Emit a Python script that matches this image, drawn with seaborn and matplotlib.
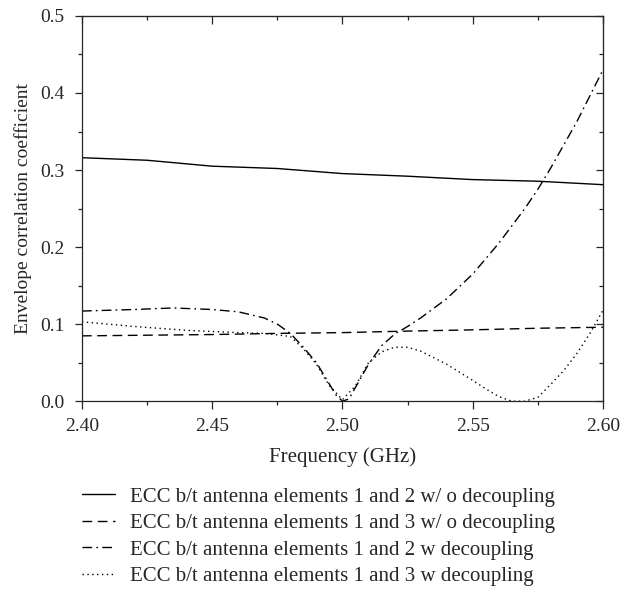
import pandas as pd
import seaborn as sns
import matplotlib.pyplot as plt
from matplotlib.ticker import MultipleLocator

# values
freq_solid = [2.40, 2.425, 2.45, 2.475, 2.50, 2.525, 2.55, 2.575, 2.60]
ecc_12_wo = [0.316, 0.3127, 0.305, 0.302, 0.2954, 0.292, 0.2876, 0.2855, 0.281]

freq_dash = [2.40, 2.45, 2.475, 2.50, 2.525, 2.55, 2.575, 2.60]
ecc_13_wo = [0.0848, 0.0865, 0.088, 0.089, 0.091, 0.0926, 0.0947, 0.096]

freq_dashdot = [2.40, 2.41, 2.42, 2.435, 2.45, 2.46, 2.47, 2.475, 2.48, 2.485,
                2.49, 2.495, 2.4975, 2.50, 2.5025, 2.505, 2.51, 2.515, 2.52,
                2.525, 2.53, 2.54, 2.55, 2.56, 2.57, 2.575, 2.58, 2.59, 2.60]
ecc_12_w = [0.117, 0.118, 0.119, 0.121, 0.119, 0.116, 0.108, 0.100, 0.088, 0.070,
            0.050, 0.022, 0.008, 0.0, 0.003, 0.018, 0.048, 0.072, 0.087,
            0.097, 0.108, 0.133, 0.165, 0.205, 0.250, 0.275, 0.303, 0.363, 0.430]

freq_dot = [2.40, 2.42, 2.44, 2.46, 2.47, 2.48, 2.485, 2.49, 2.495, 2.50, 2.505,
            2.51, 2.515, 2.52, 2.525, 2.53, 2.54, 2.55, 2.555, 2.56, 2.565,
            2.57, 2.575, 2.58, 2.585, 2.59, 2.595, 2.60]
ecc_13_w = [0.103, 0.097, 0.092, 0.089, 0.088, 0.084, 0.068, 0.048, 0.020, 0.002, 0.020,
            0.050, 0.064, 0.070, 0.070, 0.065, 0.048, 0.027, 0.016, 0.006, 0.0,
            0.0, 0.005, 0.022, 0.040, 0.062, 0.088, 0.118]

labels = ["ECC b/t antenna elements 1 and 2 w/ o decoupling",
          "ECC b/t antenna elements 1 and 3 w/ o decoupling",
          "ECC b/t antenna elements 1 and 2 w decoupling",
          "ECC b/t antenna elements 1 and 3 w decoupling"]

xticks = [2.40, 2.45, 2.50, 2.55, 2.60]
yticks = [0.0, 0.1, 0.2, 0.3, 0.4, 0.5]

sns.set_style("ticks")
plt.rcParams['font.family'] = ['Liberation Serif', 'DejaVu Serif']
plt.rcParams['font.size'] = 14

fig = plt.figure(figsize=(6.21, 5.9), dpi=100)
ax = fig.add_axes([0.132, 0.32, 0.839, 0.653])

lw = 1.0
sns.lineplot(x=freq_solid, y=ecc_12_wo, ax=ax, color='black', lw=lw,
             linestyle='-', label=labels[0])
sns.lineplot(x=freq_dash, y=ecc_13_wo, ax=ax, color='black', lw=lw,
             linestyle=(0, (7, 4)), label=labels[1])
sns.lineplot(x=freq_dashdot, y=ecc_12_w, ax=ax, color='black', lw=lw,
             linestyle=(0, (7, 3, 1.2, 3)), label=labels[2])
sns.lineplot(x=freq_dot, y=ecc_13_w, ax=ax, color='black', lw=lw,
             linestyle=(0, (1, 2.5)), label=labels[3])

ax.set_xlim(2.40, 2.60)
ax.set_ylim(0.0, 0.5)
ax.set_xticks(xticks)
ax.set_xticklabels([f"{v:.2f}" for v in xticks])
ax.set_yticks(yticks)
ax.set_yticklabels([f"{v:.1f}" for v in yticks])
ax.xaxis.set_minor_locator(MultipleLocator(0.025))
ax.yaxis.set_minor_locator(MultipleLocator(0.05))
ax.tick_params(which='major', direction='out', length=5.4, width=0.9, labelsize=14)
ax.tick_params(which='minor', direction='out', length=2.9, width=0.9)
ax.tick_params(axis='x', which='major', pad=6.5)
ax.tick_params(axis='y', which='major', pad=7)
for s in ax.spines.values():
    s.set_visible(True)
    s.set_linewidth(0.9)

# inward ticks on top and right
top = ax.secondary_xaxis('top')
top.set_xticks(xticks)
top.xaxis.set_minor_locator(MultipleLocator(0.025))
top.tick_params(which='both', direction='in', labeltop=False, width=0.9)
top.tick_params(which='major', length=5.4)
top.tick_params(which='minor', length=2.9)
right = ax.secondary_yaxis('right')
right.set_yticks(yticks)
right.yaxis.set_minor_locator(MultipleLocator(0.05))
right.tick_params(which='both', direction='in', labelright=False, width=0.9)
right.tick_params(which='major', length=5.4)
right.tick_params(which='minor', length=2.9)

ax.set_xlabel("Frequency (GHz)", fontsize=15, labelpad=9)
ax.set_ylabel("Envelope correlation coefficient", fontsize=14, labelpad=6)

handles, labs = ax.get_legend_handles_labels()
ax.get_legend().remove()
fig.legend(handles, labs, loc='upper left', bbox_to_anchor=(82 / 621, 1 - 487 / 590),
           frameon=False, borderpad=0, borderaxespad=0, handlelength=1.6,
           handletextpad=0.7, labelspacing=0.33, fontsize=15)

fig.savefig("out.png", dpi=100)
